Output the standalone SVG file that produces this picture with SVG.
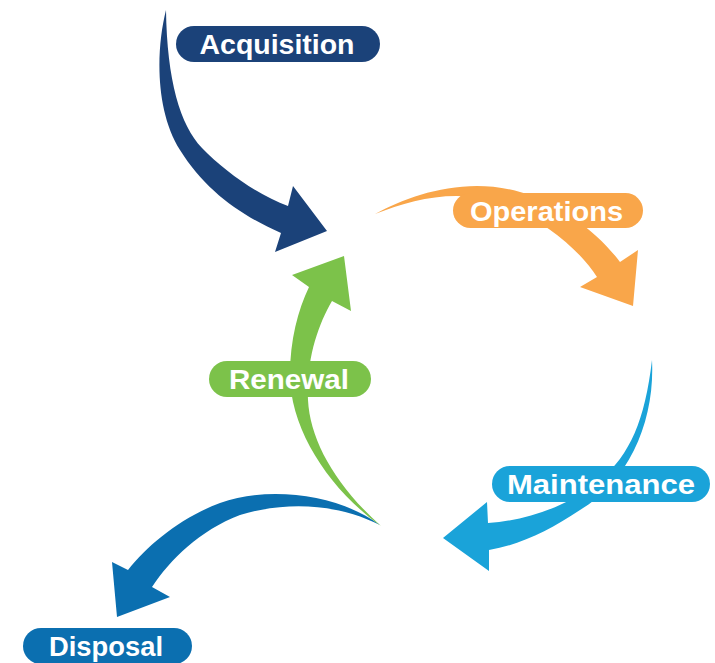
<svg xmlns="http://www.w3.org/2000/svg" width="715" height="663" viewBox="0 0 715 663">
<style>
.lbl{font-family:"Liberation Sans",Arial,sans-serif;font-weight:bold;font-size:28px;fill:#ffffff;text-anchor:middle}
.acq{fill:#1b4279}
.ops{fill:#f9a64a}
.mnt{fill:#1aa3d9}
.ren{fill:#7cc24a}
.dis{fill:#0b6fb0}
</style>
<rect x="0" y="0" width="715" height="663" fill="#ffffff"/>
<g id="connectors">
<path id="arrow-acquisition" class="acq" d="M166,10 C156,50 155,110 180,150 C205,190 240,215 281,233 L275,252 L327,231 L293,186 L288,206 C260,196 225,172 202,148 C180,125 167,80 166,10 Z"/>
<path id="arrow-operations" class="ops" d="M375,214 C410,195 465,176 520,192 C560,202 600,235 620,262 L638,250 L633,306 L580,287 L597,277 C580,250 540,215 490,200 C450,190 410,200 375,214 Z"/>
<path id="arrow-maintenance" class="mnt" d="M652,360 C655,420 630,480 580,510 C550,530 520,545 489,550 L489,571 L443,538 L487,502 L488,523 C530,520 570,505 600,480 C630,455 645,420 652,360 Z"/>
<path id="arrow-disposal" class="dis" d="M380,525 C340,495 270,485 220,503 C180,518 148,545 128,570 L112,562 L117,617 L170,597 L152,587 C170,560 200,530 240,515 C290,500 340,505 380,525 Z"/>
<path id="arrow-renewal" class="ren" d="M381,526 C330,490 290,430 290,375 C290,340 298,310 309,287 L292,275 L344,256 L351,311 L332,301 C318,325 306,360 308,400 C310,440 335,485 381,526 Z"/>
</g>
<g id="acquisition">
<rect class="acq" x="176" y="26" width="204" height="36" rx="18"/>
<text class="lbl" x="277" y="54" textLength="155" lengthAdjust="spacingAndGlyphs">Acquisition</text>
</g>
<g id="operations">
<rect class="ops" x="453" y="193" width="190" height="35" rx="17.5"/>
<text class="lbl" x="546.5" y="221" textLength="153" lengthAdjust="spacingAndGlyphs">Operations</text>
</g>
<g id="maintenance">
<rect class="mnt" x="492" y="466" width="218" height="36" rx="18"/>
<text class="lbl" x="601" y="494" textLength="188" lengthAdjust="spacingAndGlyphs">Maintenance</text>
</g>
<g id="renewal">
<rect class="ren" x="209" y="361" width="162" height="36" rx="18"/>
<text class="lbl" x="289" y="389" textLength="120" lengthAdjust="spacingAndGlyphs">Renewal</text>
</g>
<g id="disposal">
<rect class="dis" x="23" y="628" width="169" height="36" rx="18"/>
<text class="lbl" x="106" y="656" textLength="114" lengthAdjust="spacingAndGlyphs">Disposal</text>
</g>
</svg>
